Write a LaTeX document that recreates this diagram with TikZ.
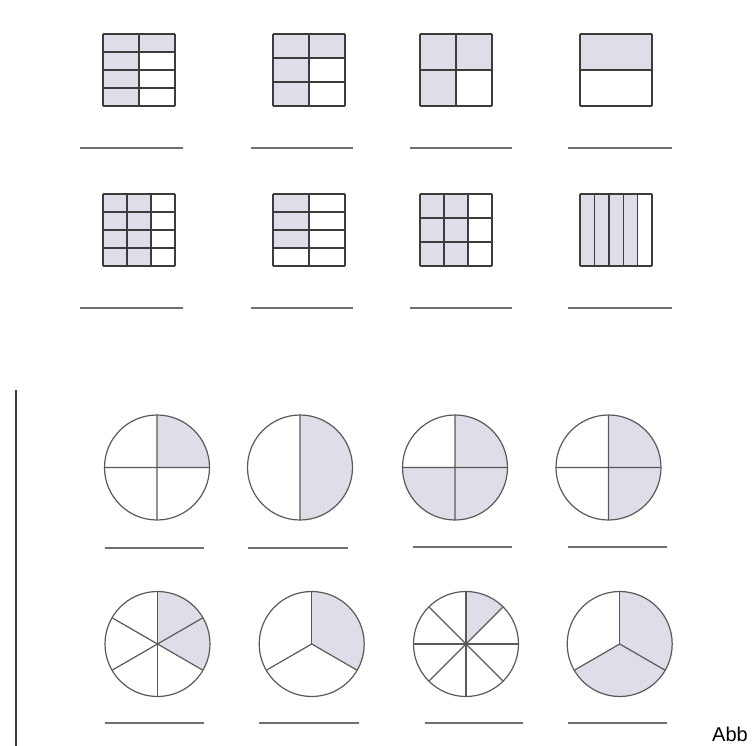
\documentclass[tikz,border=0pt]{standalone}
\usepackage{fontspec}
\setmainfont{Liberation Sans}
\usetikzlibrary{calc}
\definecolor{fracfill}{RGB}{225,221,232}
\definecolor{gridline}{RGB}{60,60,60}
\definecolor{ansline}{RGB}{112,112,112}

\begin{document}
\begin{tikzpicture}[x=1pt,y=-1pt,
    part/.style={fill=fracfill},
    fracgrid/.style={draw=gridline,line width=1.4pt,step=1},
    rim/.style={draw=gridline!85,line width=1.2pt},
    answer/.style={draw=ansline,line width=2pt}]
  \useasboundingbox (0,0) rectangle (755,746);
  % squares, top row
  \begin{scope}[shift={(103,106)},x=36pt,y=18pt]
    \fill[part] (0,0) rectangle (1,4) (1,3) rectangle (2,4);
    \draw[fracgrid] (0,0) grid (2,4);
  \end{scope}
  \begin{scope}[shift={(273,106)},x=36pt,y=24pt]
    \fill[part] (0,0) rectangle (1,3) (1,2) rectangle (2,3);
    \draw[fracgrid] (0,0) grid (2,3);
  \end{scope}
  \begin{scope}[shift={(420,106)},x=36pt,y=36pt]
    \fill[part] (0,1) rectangle (2,2) (0,0) rectangle (1,1);
    \draw[fracgrid] (0,0) grid (2,2);
  \end{scope}
  \begin{scope}[shift={(580,106)},x=72pt,y=36pt]
    \fill[part] (0,1) rectangle (1,2);
    \draw[fracgrid] (0,0) grid (1,2);
  \end{scope}
  % squares, second row
  \begin{scope}[shift={(103,266)},x=24pt,y=18pt]
    \fill[part] (0,0) rectangle (2,4);
    \draw[fracgrid] (0,0) grid (3,4);
  \end{scope}
  \begin{scope}[shift={(273,266)},x=36pt,y=18pt]
    \fill[part] (0,1) rectangle (1,4);
    \draw[fracgrid] (0,0) grid (2,4);
  \end{scope}
  \begin{scope}[shift={(420,266)},x=24pt,y=24pt]
    \fill[part] (0,0) rectangle (2,3);
    \draw[fracgrid] (0,0) grid (3,3);
  \end{scope}
  \begin{scope}[shift={(580,266)},x=14.4pt,y=72pt]
    \fill[part] (0,0) rectangle (4,1);
    \draw[fracgrid] (0,0) grid (5,1);
  \end{scope}
  % answer lines under the squares
  \foreach \y in {148,308} {
    \draw[answer] (80,\y) -- (183,\y);  \draw[answer] (251,\y) -- (353,\y);
    \draw[answer] (410,\y) -- (512,\y); \draw[answer] (568,\y) -- (672,\y);
  }
  % page edge
  \draw[gridline,line width=2pt] (16,390) -- (16,746);
  % circles, first row
  \begin{scope}[shift={(157,467.5)},x=52.5pt,y=52.5pt]
    \fill[part] (0,0) -- (90:1) arc (90:0:1) -- cycle;
    \draw[rim] (0,0) circle (1) (-1,0) -- (1,0) (0,-1) -- (0,1);
  \end{scope}
  \begin{scope}[shift={(300,467.5)},x=52.5pt,y=52.5pt]
    \fill[part] (0,0) -- (90:1) arc (90:-90:1) -- cycle;
    \draw[rim] (0,0) circle (1) (0,-1) -- (0,1);
  \end{scope}
  \begin{scope}[shift={(455,467.5)},x=52.5pt,y=52.5pt]
    \fill[part] (0,0) -- (90:1) arc (90:-180:1) -- cycle;
    \draw[rim] (0,0) circle (1) (-1,0) -- (1,0) (0,-1) -- (0,1);
  \end{scope}
  \begin{scope}[shift={(608.5,467.5)},x=52.5pt,y=52.5pt]
    \fill[part] (0,0) -- (90:1) arc (90:-90:1) -- cycle;
    \draw[rim] (0,0) circle (1) (-1,0) -- (1,0) (0,-1) -- (0,1);
  \end{scope}
  % circles, second row
  \begin{scope}[shift={(157.5,644)},x=52.5pt,y=52.5pt]
    \fill[part] (0,0) -- (90:1) arc (90:-30:1) -- cycle;
    \draw[rim] (0,0) circle (1);
    \foreach \a in {90,30,-30} \draw[rim] (\a:1) -- (\a+180:1);
  \end{scope}
  \begin{scope}[shift={(311.7,644)},x=52.5pt,y=52.5pt]
    \fill[part] (0,0) -- (90:1) arc (90:-30:1) -- cycle;
    \draw[rim] (0,0) circle (1);
    \foreach \a in {90,-30,210} \draw[rim] (0,0) -- (\a:1);
  \end{scope}
  \begin{scope}[shift={(466,644)},x=52.5pt,y=52.5pt]
    \fill[part] (0,0) -- (90:1) arc (90:45:1) -- cycle;
    \draw[rim] (0,0) circle (1);
    \foreach \a in {0,45,90,135} \draw[rim] (\a:1) -- (\a+180:1);
  \end{scope}
  \begin{scope}[shift={(619.7,644)},x=52.5pt,y=52.5pt]
    \fill[part] (0,0) -- (90:1) arc (90:-150:1) -- cycle;
    \draw[rim] (0,0) circle (1);
    \foreach \a in {90,-30,210} \draw[rim] (0,0) -- (\a:1);
  \end{scope}
  % answer lines under the circles
  \draw[answer] (105,548) -- (204,548); \draw[answer] (248,548) -- (348,548);
  \draw[answer] (413,547) -- (512,547); \draw[answer] (568,547) -- (667,547);
  \draw[answer] (105,723) -- (204,723); \draw[answer] (259,723) -- (359,723);
  \draw[answer] (425,723) -- (523,723); \draw[answer] (568,723) -- (667,723);
  \node[anchor=base west,inner sep=0pt,font=\fontsize{20}{24}\selectfont] (caption) at (712,741) {Abb};
\end{tikzpicture}
\end{document}
